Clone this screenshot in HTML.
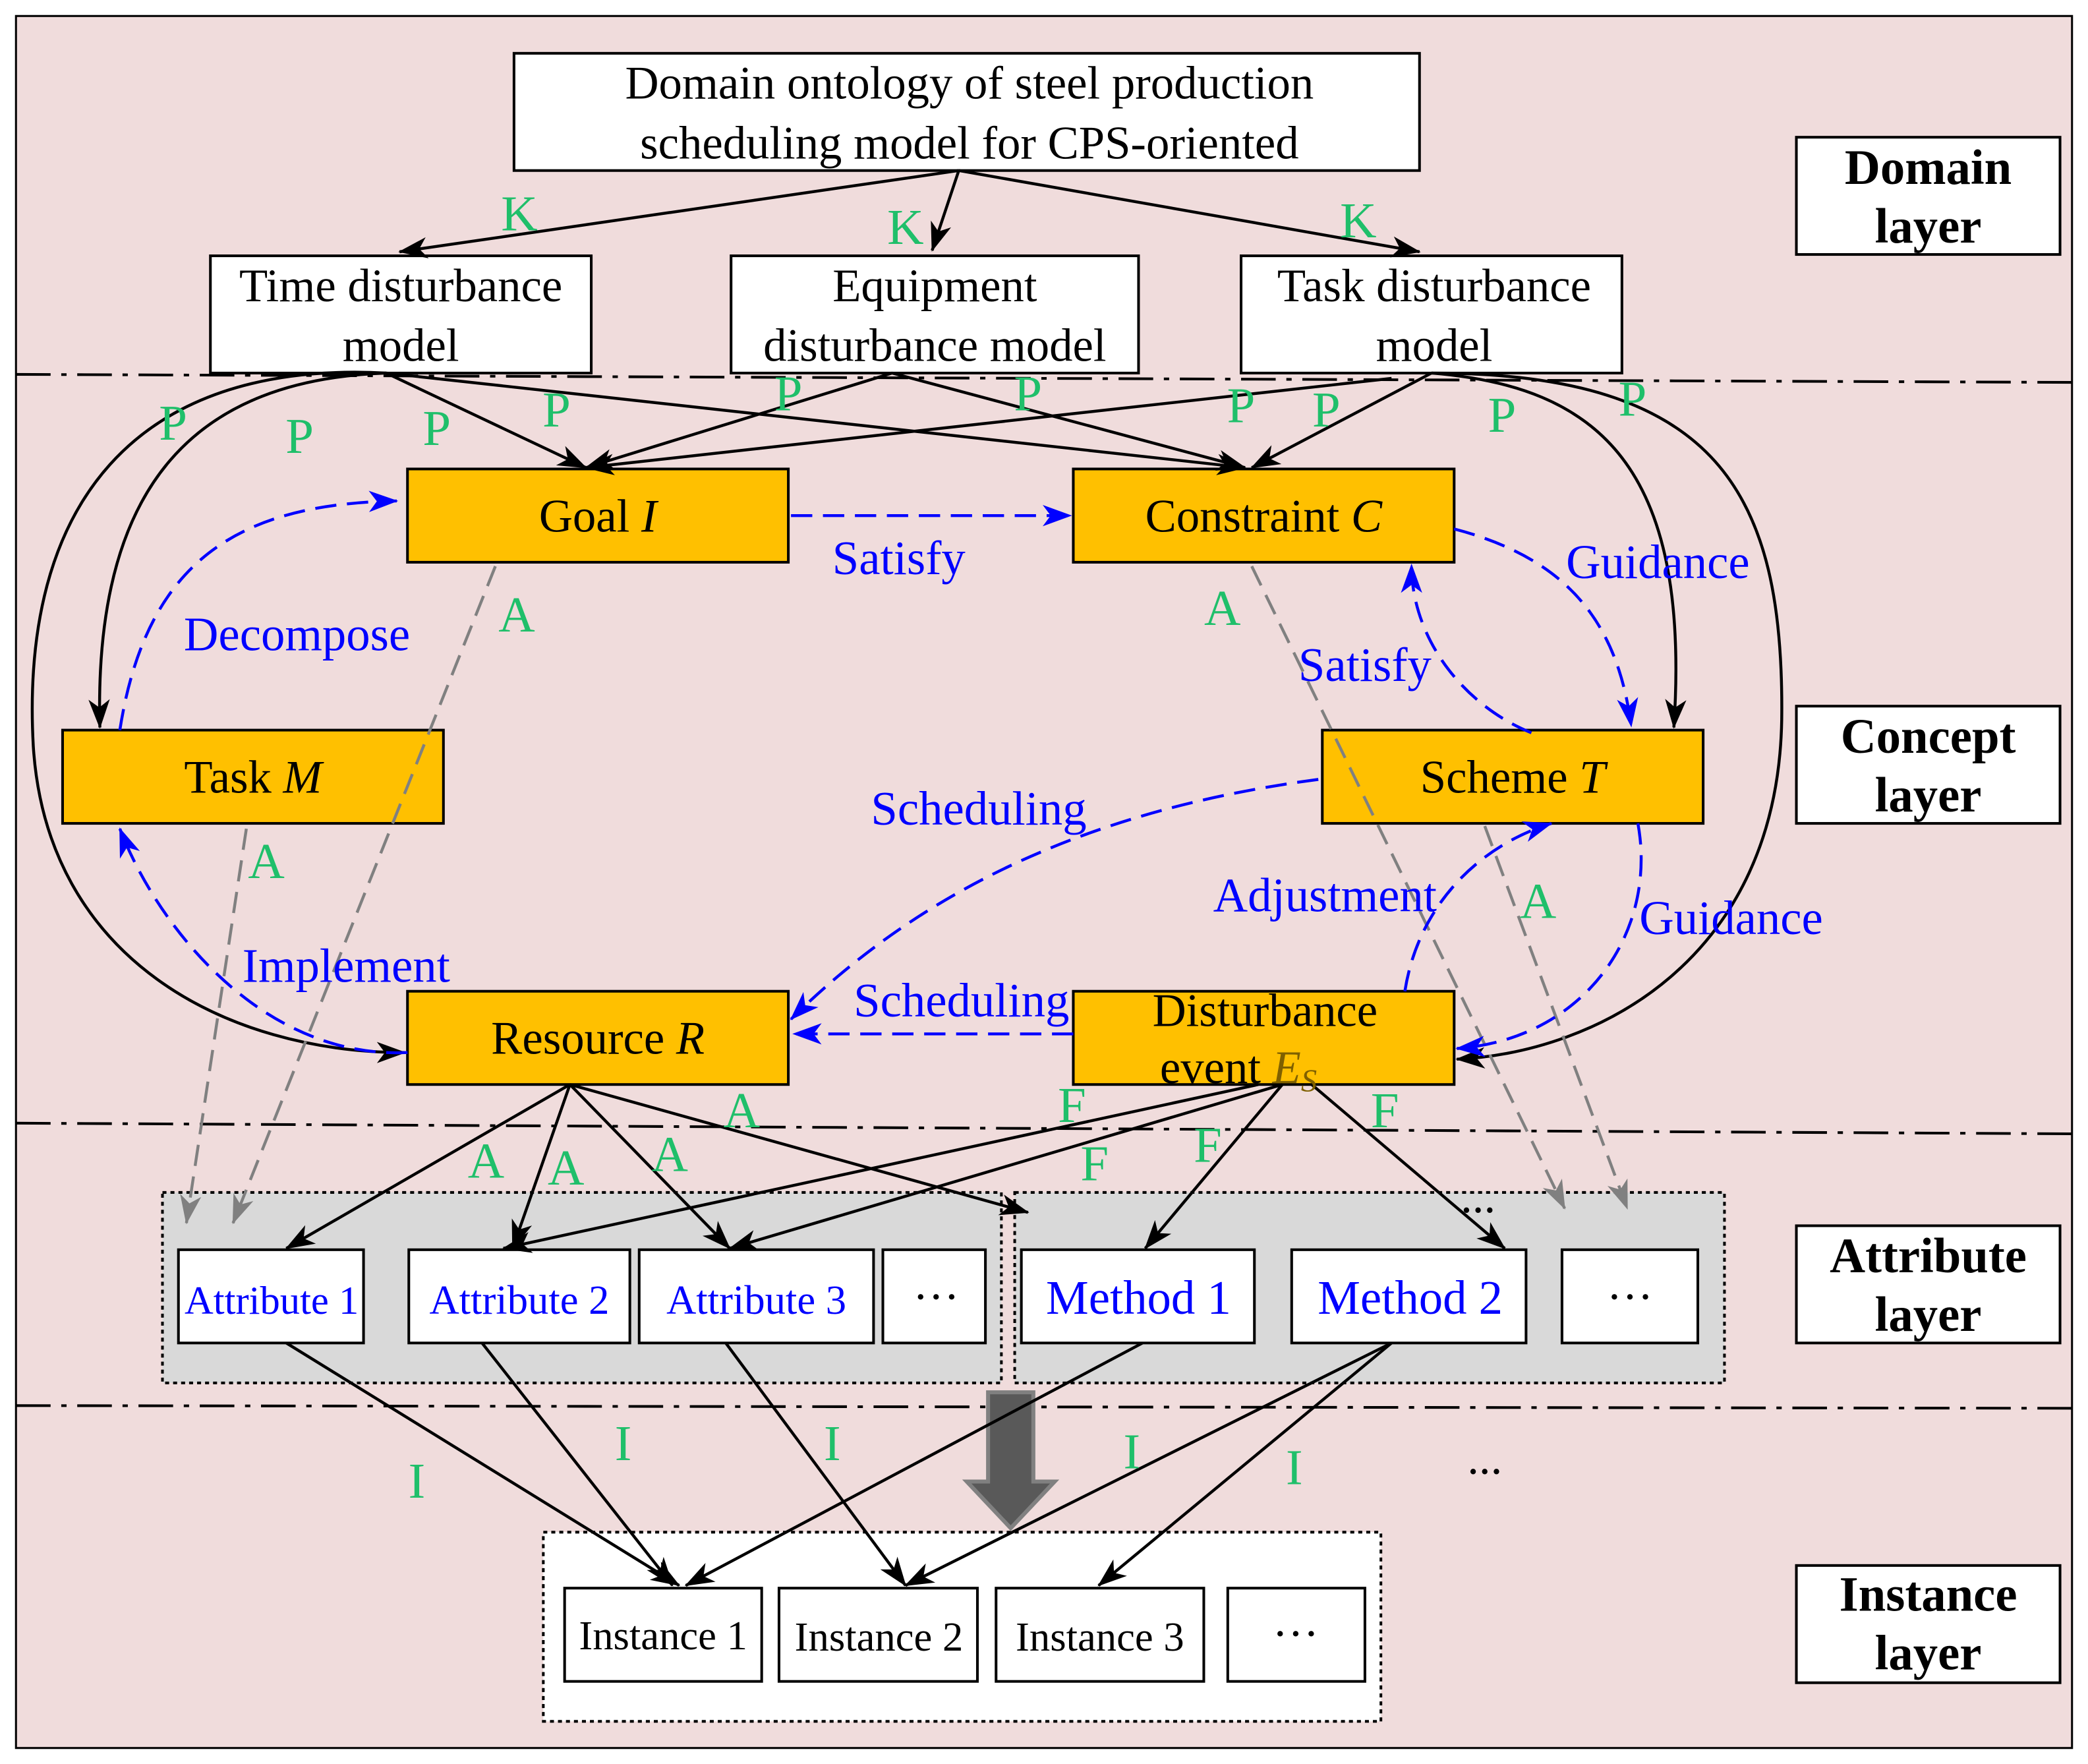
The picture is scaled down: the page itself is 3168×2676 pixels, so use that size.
<!DOCTYPE html>
<html><head><meta charset="utf-8"><style>html,body{margin:0;padding:0;background:#fff}svg{display:block}</style></head><body>
<svg width="3168" height="2676" viewBox="0 0 1568 1324" preserveAspectRatio="none" xmlns="http://www.w3.org/2000/svg" font-family="Liberation Serif, serif">
<defs>
<marker id="k" markerWidth="22" markerHeight="18" refX="21" refY="9" orient="auto" markerUnits="userSpaceOnUse"><path d="M0,1 L22,9 L0,17 L6,9 Z" fill="#000"/></marker>
<marker id="b" markerWidth="22" markerHeight="18" refX="21" refY="9" orient="auto" markerUnits="userSpaceOnUse"><path d="M0,1 L22,9 L0,17 L6,9 Z" fill="#0000ff"/></marker>
<marker id="g" markerWidth="22" markerHeight="18" refX="21" refY="9" orient="auto" markerUnits="userSpaceOnUse"><path d="M0,1 L22,9 L0,17 L6,9 Z" fill="#808080"/></marker>
</defs>
<rect x="0" y="0" width="1568" height="1324" fill="#fff"/>
<rect x="12" y="12" width="1544" height="1300" fill="#f0dcdc" stroke="#000" stroke-width="1.5"/>
<g stroke="#000" stroke-width="2" stroke-dasharray="26,8,4,8" fill="none">
<line x1="12" y1="281" x2="1556" y2="287"/>
<line x1="12" y1="843" x2="1556" y2="851"/>
<line x1="12" y1="1055" x2="1556" y2="1057"/>
</g>
<rect x="122" y="895" width="630" height="143" fill="#d9d9d9" stroke="#000" stroke-width="2" stroke-dasharray="3,3"/>
<rect x="762" y="895" width="533" height="143" fill="#d9d9d9" stroke="#000" stroke-width="2" stroke-dasharray="3,3"/>
<rect x="408" y="1150" width="629" height="142" fill="#fff" stroke="#000" stroke-width="2" stroke-dasharray="3,3"/>
<path d="M742,1045 L776,1045 L776,1112 L792,1112 L759,1147 L726,1112 L742,1112 Z" fill="#595959" stroke="#808080" stroke-width="3"/>
<g stroke="#000" stroke-width="2">
<rect x="386" y="40" width="680" height="88" fill="#fff"/>
<rect x="158" y="192" width="286" height="88" fill="#fff"/>
<rect x="549" y="192" width="306" height="88" fill="#fff"/>
<rect x="932" y="192" width="286" height="88" fill="#fff"/>
<rect x="1349" y="103" width="198" height="88" fill="#fff"/>
<rect x="1349" y="530" width="198" height="88" fill="#fff"/>
<rect x="1349" y="920" width="198" height="88" fill="#fff"/>
<rect x="1349" y="1175" width="198" height="88" fill="#fff"/>
<g fill="#ffc000">
<rect x="306" y="352" width="286" height="70"/>
<rect x="806" y="352" width="286" height="70"/>
<rect x="47" y="548" width="286" height="70"/>
<rect x="993" y="548" width="286" height="70"/>
<rect x="306" y="744" width="286" height="70"/>
<rect x="806" y="744" width="286" height="70"/>
</g>
<g fill="#fff">
<rect x="134" y="938" width="139" height="70"/>
<rect x="307" y="938" width="166" height="70"/>
<rect x="480" y="938" width="176" height="70"/>
<rect x="663" y="938" width="77" height="70"/>
<rect x="767" y="938" width="175" height="70"/>
<rect x="970" y="938" width="176" height="70"/>
<rect x="1173" y="938" width="102" height="70"/>
<rect x="424" y="1192" width="148" height="70"/>
<rect x="585" y="1192" width="149" height="70"/>
<rect x="748" y="1192" width="156" height="70"/>
<rect x="922" y="1192" width="103" height="70"/>
</g>
</g>
<g stroke="#000" stroke-width="2.2" fill="none" marker-end="url(#k)">
<line x1="720" y1="128" x2="300" y2="189"/>
<line x1="720" y1="128" x2="700" y2="188"/>
<line x1="720" y1="128" x2="1066" y2="189"/>
<path d="M290,280 C150,285 70,360 75,546"/>
<path d="M290,280 C100,270 15,380 25,560 C35,720 170,790 304,790"/>
<line x1="290" y1="280" x2="440" y2="351"/>
<line x1="290" y1="280" x2="935" y2="351"/>
<line x1="670" y1="280" x2="440" y2="351"/>
<line x1="670" y1="280" x2="935" y2="351"/>
<line x1="1045" y1="284" x2="440" y2="351"/>
<line x1="1075" y1="280" x2="940" y2="351"/>
<path d="M1075,280 C1200,290 1270,350 1257,546"/>
<path d="M1075,280 C1290,280 1340,370 1338,540 C1335,720 1200,790 1094,795"/>
<line x1="428" y1="814" x2="215" y2="937"/>
<line x1="428" y1="814" x2="385" y2="937"/>
<line x1="428" y1="814" x2="548" y2="937"/>
<line x1="428" y1="814" x2="772" y2="910"/>
<line x1="945" y1="814" x2="378" y2="937"/>
<line x1="963" y1="814" x2="548" y2="937"/>
<line x1="963" y1="814" x2="860" y2="937"/>
<line x1="985" y1="814" x2="1130" y2="937"/>
<line x1="215" y1="1008" x2="510" y2="1190"/>
<line x1="362" y1="1008" x2="505" y2="1190"/>
<line x1="545" y1="1008" x2="680" y2="1190"/>
<line x1="858" y1="1008" x2="515" y2="1190"/>
<line x1="1045" y1="1008" x2="680" y2="1190"/>
<line x1="1045" y1="1008" x2="825" y2="1190"/>
</g>
<g stroke="#808080" stroke-width="2.2" fill="none" stroke-dasharray="16,8" marker-end="url(#g)">
<line x1="372" y1="425" x2="175" y2="918"/>
<line x1="185" y1="622" x2="140" y2="918"/>
<line x1="940" y1="425" x2="1175" y2="907"/>
<line x1="1115" y1="620" x2="1222" y2="907"/>
</g>
<g stroke="#0000ff" stroke-width="2.2" fill="none" stroke-dasharray="16,8" marker-end="url(#b)">
<path d="M90,548 C110,420 180,378 298,376"/>
<line x1="594" y1="387" x2="804" y2="387"/>
<path d="M1092,397 C1180,420 1215,470 1225,545"/>
<path d="M1150,550 C1100,530 1060,480 1060,424"/>
<path d="M990,585 C800,610 680,680 594,765"/>
<line x1="806" y1="776" x2="596" y2="776"/>
<path d="M1055,744 C1065,680 1110,635 1165,618"/>
<path d="M1230,618 C1245,700 1190,780 1094,787"/>
<path d="M306,790 C200,795 120,700 90,622"/>
</g>
<g font-size="35" fill="#000" text-anchor="middle">
<text x="728" y="74">Domain ontology of steel production</text>
<text x="728" y="119">scheduling model for CPS-oriented</text>
<text x="301" y="226">Time disturbance</text>
<text x="301" y="271">model</text>
<text x="702" y="226">Equipment</text>
<text x="702" y="271">disturbance model</text>
<text x="1077" y="226">Task disturbance</text>
<text x="1077" y="271">model</text>
<text x="449" y="399">Goal <tspan font-style="italic">I</tspan></text>
<text x="949" y="399">Constraint <tspan font-style="italic">C</tspan></text>
<text x="190" y="595">Task <tspan font-style="italic">M</tspan></text>
<text x="1136" y="595">Scheme <tspan font-style="italic">T</tspan></text>
<text x="449" y="791">Resource <tspan font-style="italic">R</tspan></text>
<text x="950" y="770">Disturbance</text>
<text x="930" y="813">event <tspan font-style="italic" fill="#7f6000">E<tspan font-size="24" dy="6">S</tspan></tspan></text>
<text x="703" y="985">···</text>
<text x="1224" y="985">···</text>
<text x="973" y="1238">···</text>
<text x="1115" y="1106">...</text>
<text x="1110" y="910">...</text>
</g>
<g font-size="31" fill="#000" text-anchor="middle">
<text x="498" y="1238">Instance 1</text>
<text x="660" y="1239">Instance 2</text>
<text x="826" y="1239">Instance 3</text>
</g>
<g font-size="37" font-weight="bold" fill="#000" text-anchor="middle">
<text x="1448" y="138">Domain</text><text x="1448" y="182">layer</text>
<text x="1448" y="565">Concept</text><text x="1448" y="609">layer</text>
<text x="1448" y="955">Attribute</text><text x="1448" y="999">layer</text>
<text x="1448" y="1209">Instance</text><text x="1448" y="1253">layer</text>
</g>
<g font-size="34" fill="#0000ff" text-anchor="middle">
<text x="204" y="986" font-size="30">Attribute 1</text>
<text x="390" y="986" font-size="31">Attribute 2</text>
<text x="568" y="986" font-size="31">Attribute 3</text>
<text x="855" y="986" font-size="36">Method 1</text>
<text x="1059" y="986" font-size="36">Method 2</text>
</g>
<g font-size="36" fill="#0000ff" text-anchor="middle">
<text x="223" y="488">Decompose</text>
<text x="675" y="431">Satisfy</text>
<text x="1245" y="434">Guidance</text>
<text x="1025" y="511">Satisfy</text>
<text x="735" y="619">Scheduling</text>
<text x="722" y="763">Scheduling</text>
<text x="995" y="684">Adjustment</text>
<text x="1300" y="701">Guidance</text>
<text x="260" y="737">Implement</text>
</g>
<g font-size="38" fill="#1fbf6a" text-anchor="middle">
<text x="390" y="173">K</text><text x="680" y="183">K</text><text x="1020" y="178">K</text>
<text x="130" y="330">P</text><text x="225" y="340">P</text><text x="328" y="334">P</text><text x="418" y="320">P</text>
<text x="592" y="308">P</text><text x="772" y="308">P</text><text x="932" y="317">P</text><text x="996" y="320">P</text>
<text x="1128" y="324">P</text><text x="1226" y="312">P</text>
<text x="388" y="474">A</text><text x="200" y="659">A</text><text x="918" y="469">A</text><text x="1155" y="689">A</text>
<text x="365" y="884">A</text><text x="425" y="889">A</text><text x="503" y="879">A</text><text x="557" y="846">A</text>
<text x="805" y="842">F</text><text x="822" y="886">F</text><text x="907" y="872">F</text><text x="1040" y="846">F</text>
<text x="313" y="1124">I</text><text x="468" y="1096">I</text><text x="625" y="1096">I</text><text x="850" y="1102">I</text><text x="972" y="1114">I</text>
</g>
</svg>
</body></html>
